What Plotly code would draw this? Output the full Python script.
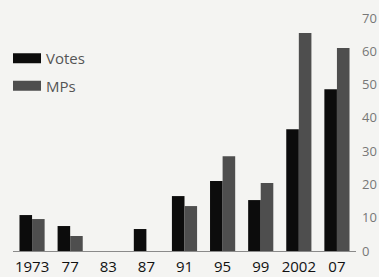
import plotly.graph_objects as go

years = ["1973", "77", "83", "87", "91", "95", "99", "2002", "07"]
votes = [10.8, 7.5, 0, 6.6, 16.5, 21, 15.3, 36.6, 48.6]
mps = [9.6, 4.5, 0, 0, 13.5, 28.5, 20.4, 65.5, 61]
y_ticks = [0, 10, 20, 30, 40, 50, 60, 70]

VOTE_C = "#0c0c0c"
MP_C = "#4e4e4e"
FONT = "Open Sans"

fig = go.Figure()
fig.add_trace(go.Bar(x=years, y=votes, name="Votes", marker=dict(color=VOTE_C, line=dict(width=0)), showlegend=False))
fig.add_trace(go.Bar(x=years, y=mps, name="MPs", marker=dict(color=MP_C, line=dict(width=0)), showlegend=False))
# legend entries drawn as wide rectangles
fig.add_trace(go.Scatter(x=[None], y=[None], mode="lines", name="Votes",
                         line=dict(color=VOTE_C, width=11), legendgroup="a"))
fig.add_trace(go.Scatter(x=[None], y=[None], mode="lines", name="MPs",
                         line=dict(color=MP_C, width=11), legendgroup="b"))

fig.update_layout(
    width=379, height=277,
    margin=dict(l=13, r=23, t=8, b=26),
    paper_bgcolor="#f4f4f2", plot_bgcolor="#f4f4f2",
    barmode="group", bargap=0.34, bargroupgap=0,
    font=dict(family=FONT, color="#222"),
    legend=dict(x=0, y=0.86, xanchor="left", yanchor="top", indentation=-11,
                bgcolor="rgba(0,0,0,0)", font=dict(size=15, color="#555"),
                itemwidth=34, tracegroupgap=5, traceorder="grouped"),
    xaxis=dict(type="category", showline=True, linecolor="#8a8a8a", linewidth=1,
               showgrid=False, ticks="", ticklabelstandoff=2,
               tickfont=dict(size=15, color="#111"),
               range=[-0.5, 8.5], fixedrange=True, automargin=False),
    yaxis=dict(side="right", range=[0, 73], tickvals=y_ticks, showgrid=False,
               zeroline=False, showline=False, ticks="", ticklabelstandoff=5,
               tickfont=dict(size=13, color="#777"),
               fixedrange=True, automargin=False),
)

fig.write_html("out.html", config={"displayModeBar": False},
               post_script="document.body.style.margin='0';")
